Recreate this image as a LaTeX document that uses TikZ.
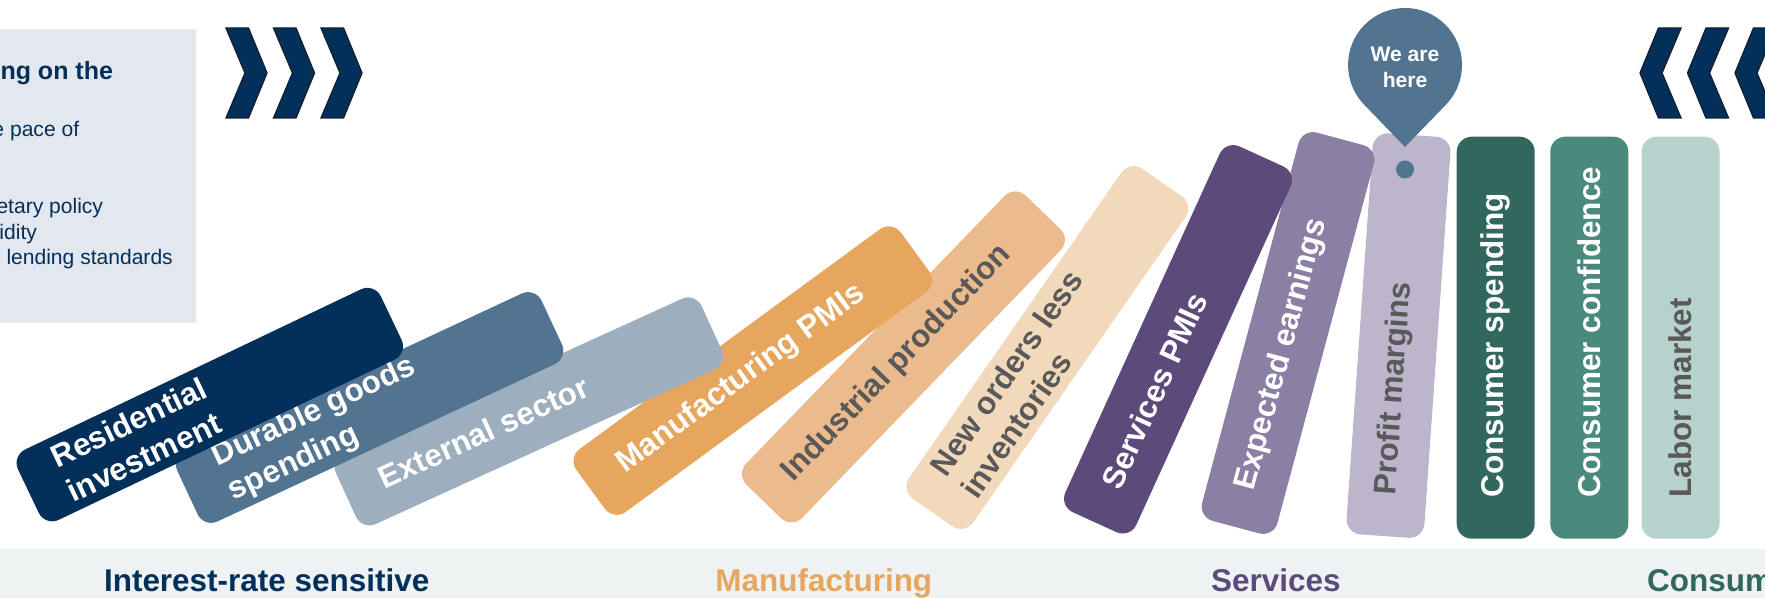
\documentclass[tikz,border=0pt]{standalone}
\usepackage{fontspec}
\setmainfont{Liberation Sans}
\usetikzlibrary{calc}

\definecolor{jpnavy}{HTML}{02305A}
\definecolor{jpslate}{HTML}{537491}
\definecolor{jpgreyblue}{HTML}{9DAFBF}
\definecolor{mfgorange}{HTML}{E6A65D}
\definecolor{mfglight}{HTML}{ECBB8D}
\definecolor{mfgpale}{HTML}{F3D9BC}
\definecolor{svcdark}{HTML}{5C4B7A}
\definecolor{svcmid}{HTML}{8B7FA4}
\definecolor{svclight}{HTML}{BCB5CB}
\definecolor{condark}{HTML}{32675E}
\definecolor{conmid}{HTML}{4A8A7D}
\definecolor{conlight}{HTML}{B5D2CD}
\definecolor{labelgrey}{HTML}{595959}
\definecolor{bandgrey}{HTML}{EEF2F3}
\definecolor{boxgrey}{HTML}{E3E8EF}
\definecolor{chevline}{HTML}{14202E}

\tikzset{every picture/.style={line width=0.75pt}}
\tikzset{
  domino/.style={rectangle, rounded corners=11.25pt, minimum width=301.5pt, minimum height=58.5pt, inner sep=0pt},
  dominotext/.style={anchor=west, inner sep=0pt, align=left, font=\fontsize{23.6}{28.5}\selectfont\bfseries},
  catlabel/.style={anchor=base, inner sep=0pt, font=\fontsize{23.6}{28}\selectfont\bfseries},
  boxtext/.style={anchor=base west, inner sep=0pt, text=jpnavy, font=\fontsize{15.8}{19}\selectfont},
  chevron/.style={draw=chevline, fill=jpnavy, line width=1pt}
}

\begin{document}
\begin{tikzpicture}[x=0.75pt,y=0.75pt,yscale=-1,xscale=1]
\useasboundingbox (0,0) rectangle (1765,598);
\clip (0,0) rectangle (1765,598);

% grey box and bottom band
\fill [boxgrey] (0,29) rectangle (196,323);
\fill [bandgrey] (0,549) rectangle (1765,598);

\draw (0,80) node [boxtext] [font=\fontsize{18.75}{22}\selectfont\bfseries] (boxhead) {ng on the};
\draw (-8,136.7) node [boxtext] (boxpace) {e pace of};
\draw (-4,213.3) node [boxtext] (boxpolicy) {etary policy};
\draw (-1,239.3) node [boxtext] (boxliq) {idity};
\draw (6,265) node [boxtext] (boxlend) {lending standards};

% chevrons
\draw [chevron] (226,28) -- (248.5,28) -- (267,73) -- (248.5,118) -- (226,118) -- (245,73) -- cycle;
\draw [chevron] (273.5,28) -- (296,28) -- (314.5,73) -- (296,118) -- (273.5,118) -- (292.5,73) -- cycle;
\draw [chevron] (321,28) -- (343.5,28) -- (362,73) -- (343.5,118) -- (321,118) -- (340,73) -- cycle;

\draw [chevron] (1681,28) -- (1658.5,28) -- (1640,73) -- (1658.5,118) -- (1681,118) -- (1662,73) -- cycle;
\draw [chevron] (1728.5,28) -- (1706,28) -- (1687.5,73) -- (1706,118) -- (1728.5,118) -- (1709.5,73) -- cycle;
\draw [chevron] (1776,28) -- (1753.5,28) -- (1735,73) -- (1753.5,118) -- (1776,118) -- (1757,73) -- cycle;

% dominoes, right to left
\node [domino, fill=conlight, rotate=90] (labor) at (1680.5,337.7) {};
\draw ($(labor.west)!31pt!(labor.east)$) node [dominotext, text=labelgrey, rotate=90] (laborT) {Labor market};

\node [domino, fill=conmid, rotate=90] (confid) at (1589.3,337.7) {};
\draw ($(confid.west)!31pt!(confid.east)$) node [dominotext, text=white, rotate=90] (confidT) {Consumer confidence};

\node [domino, fill=condark, rotate=90] (spend) at (1495.7,337.7) {};
\draw ($(spend.west)!31pt!(spend.east)$) node [dominotext, text=white, rotate=90] (spendT) {Consumer spending};

\node [domino, fill=svclight, rotate=86] (margins) at (1398.5,335.6) {};
\draw ($(margins.west)!31pt!(margins.east)$) node [dominotext, text=labelgrey, rotate=86] (marginsT) {Profit margins};

\node [domino, fill=svcmid, rotate=75] (earnings) at (1288,333) {};
\draw ($(earnings.west)!29pt!(earnings.east)$) node [dominotext, text=white, rotate=75] (earningsT) {Expected earnings};

\node [domino, fill=svcdark, rotate=65.5] (svcpmi) at (1178,339.3) {};
\draw ($(svcpmi.west)!29pt!(svcpmi.east)$) node [dominotext, text=white, rotate=65.5] (svcpmiT) {Services PMIs};

\node [domino, fill=mfgpale, rotate=55.2] (orders) at (1047.3,347.5) {};
\draw ($(orders.west)!27pt!(orders.east)$) node [dominotext, text=labelgrey, rotate=55.2] (ordersT) {New orders less\\inventories};

\node [domino, fill=mfglight, rotate=46] (indprod) at (903.4,356.9) {};
\draw ($(indprod.west)!26pt!(indprod.east)$) node [dominotext, text=labelgrey, rotate=46] (indprodT) {Industrial production};

\node [domino, fill=mfgorange, rotate=36.2] (mfgpmi) at (752.8,370.6) {};
\draw ($(mfgpmi.west)!28pt!(mfgpmi.east)$) node [dominotext, text=white, rotate=36.2] (mfgpmiT) {Manufacturing PMIs};

\node [domino, fill=jpgreyblue, rotate=24.5] (external) at (528.8,411.4) {};
\draw ($(external.west)!28pt!(external.east)$) node [dominotext, text=white, rotate=24.5] (externalT) {External sector};

\node [domino, fill=jpslate, rotate=25] (durable) at (369.6,407.5) {};
\draw ($(durable.west)!29pt!(durable.east)$) node [dominotext, text=white, rotate=25] (durableT) {Durable goods\\spending};

\node [domino, fill=jpnavy, rotate=25.5] (resid) at (209.8,404.6) {};
\draw ($(resid.west)!27pt!(resid.east)$) node [dominotext, text=white, rotate=25.5] (residT) {Residential\\investment};

% we are here pin
\fill [jpslate] (1405,147) -- (1446,104.6) arc [start angle=44.04, end angle=-224.04, radius=57] -- cycle;
\draw (1405,67) node [text=white, align=center, inner sep=0pt, font=\fontsize{15.8}{19.3}\selectfont\bfseries] (pinT) {We are\\here};
\fill [jpslate] (1405,169.5) circle (9);

% category labels
\draw (266.7,591.7) node [catlabel, text=jpnavy] (catrate) {Interest-rate sensitive};
\draw (823.8,591.7) node [catlabel, text=mfgorange] (catmfg) {Manufacturing};
\draw (1275.8,591.7) node [catlabel, text=svcdark] (catsvc) {Services};
\draw (1646.7,591.7) node [catlabel, anchor=base west, text=condark] (catcon) {Consum};

\end{tikzpicture}
\end{document}
